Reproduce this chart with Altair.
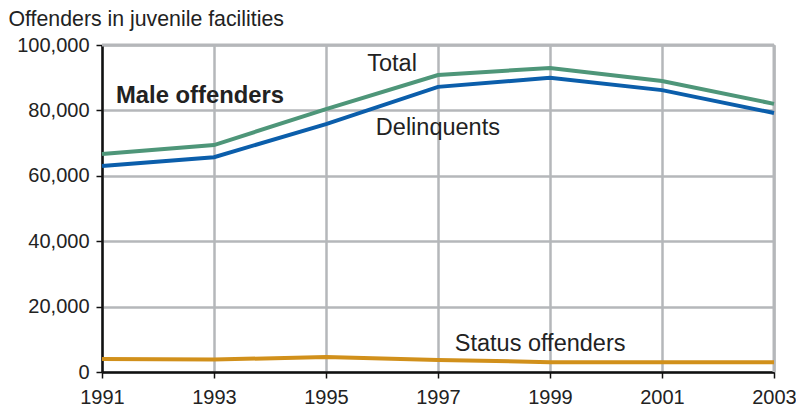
import altair as alt
import pandas as pd

years = [1991, 1993, 1995, 1997, 1999, 2001, 2003]
total = [66700, 69400, 80400, 90800, 93000, 89000, 82000]
delinquents = [63000, 65700, 75800, 87200, 90000, 86200, 79200]
status = [4000, 3800, 4600, 3700, 3000, 3000, 3000]

series_names = ["Total", "Delinquents", "Status offenders"]
series_colors = ["#4e9679", "#0b5eab", "#d1901b"]

label_text = ["Total", "Delinquents", "Status offenders", "Male offenders"]
label_year = [1996.18, 1995.89, 1997.30, 1991.25]
label_value = [94300, 74600, 8700, 84400]
label_align = ["center", "left", "left", "left"]
label_weight = ["normal", "normal", "normal", "bold"]

rows = []
for name, vals in zip(series_names, [total, delinquents, status]):
    for y, v in zip(years, vals):
        rows.append({"year": y, "value": v, "series": name})
df = pd.DataFrame(rows)

lab = pd.DataFrame({"text": label_text, "year": label_year, "value": label_value,
                    "align": label_align, "weight": label_weight})

FONT = "Liberation Sans"

x = alt.X("year:Q", scale=alt.Scale(domain=[1991, 2003], nice=False, zero=False),
          axis=alt.Axis(values=years, format="d", title=None, labelFontSize=20,
                        labelFont=FONT, labelColor="#222", labelPadding=9,
                        domainColor="#111", domainWidth=2.5, tickColor="#111",
                        tickWidth=1.5, tickSize=6, gridColor="#b5b7ba", gridWidth=2.5,
                        labelFlush=False))
y = alt.Y("value:Q", scale=alt.Scale(domain=[0, 100000], nice=False),
          axis=alt.Axis(values=list(range(0, 100001, 10000)),
                        labelExpr="datum.value % 20000 == 0 ? format(datum.value, ',') : ''",
                        title="Offenders in juvenile facilities", titleAngle=0,
                        titleAlign="left", titleBaseline="alphabetic", titleX=-94, titleY=-20,
                        titleFont=FONT, titleFontSize=21.3, titleFontWeight="normal",
                        titleColor="#222",
                        labelFontSize=20, labelFont=FONT, labelColor="#222", labelPadding=7,
                        domainColor="#111", domainWidth=2.5, tickColor="#111",
                        tickWidth=1.5, tickSize=6, gridColor="#b5b7ba", gridWidth=2.5))

lines = alt.Chart(df).mark_line(strokeWidth=4).encode(
    x=x, y=y,
    color=alt.Color("series:N", scale=alt.Scale(domain=series_names, range=series_colors),
                    legend=None),
)

border = alt.Chart(pd.DataFrame({"year": [2003]})).mark_rule(color="#b5b7ba", strokeWidth=3).encode(
    x="year:Q", y=alt.value(0), y2=alt.value(327))
topb = alt.Chart(pd.DataFrame({"value": [100000]})).mark_rule(color="#b5b7ba", strokeWidth=3).encode(
    y="value:Q", x=alt.value(0), x2=alt.value(672))

texts = []
for al in ["center", "left"]:
    for wt in ["normal", "bold"]:
        sub = lab[(lab["align"] == al) & (lab["weight"] == wt)]
        if len(sub) == 0:
            continue
        texts.append(alt.Chart(sub).mark_text(
            align=al, baseline="middle", font=FONT,
            fontSize=23.5 if wt == "normal" else 23.8, fontWeight=wt, color="#222"
        ).encode(x="year:Q", y="value:Q", text="text:N"))

chart = alt.layer(border, topb, lines, *texts).properties(
    width=672, height=327,
    autosize=alt.AutoSizeParams(type="none"),
    padding={"left": 94, "top": 37, "right": 22, "bottom": 36},
).configure_view(stroke=None).configure(background="white")

chart.save("out.html", embed_options={"renderer": "svg", "actions": False})
